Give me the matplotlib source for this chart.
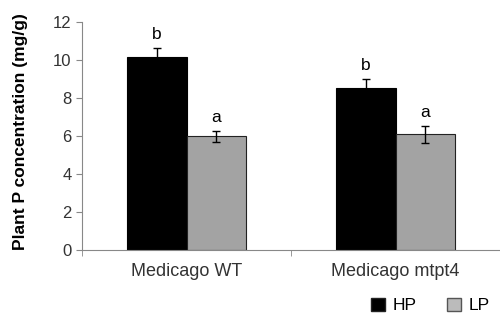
import numpy as np
import matplotlib.pyplot as plt
from matplotlib.patches import Patch

plt.rcParams['font.family'] = ['Liberation Sans', 'DejaVu Sans']

groups = ['Medicago WT', 'Medicago mtpt4']
hp = [10.15, 8.55]
lp = [5.98, 6.1]
hp_err = [0.5, 0.47]
lp_err = [0.3, 0.45]
hp_sig = ['b', 'b']
lp_sig = ['a', 'a']

fig = plt.figure(figsize=(5, 3.24), dpi=100)
ax = fig.add_axes([0.164, 0.228, 0.836, 0.704])

x = np.arange(len(groups))
w = 0.285
ax.bar(x - w/2, hp, w, color='black', edgecolor='black', linewidth=0.8)
ax.bar(x + w/2, lp, w, color='#a3a3a3', edgecolor='#222222', linewidth=0.8)
ax.errorbar(x - w/2, hp, yerr=hp_err, fmt='none', ecolor='black', elinewidth=1, capsize=3)
ax.errorbar(x + w/2, lp, yerr=lp_err, fmt='none', ecolor='black', elinewidth=1, capsize=3)

for i in range(len(groups)):
    ax.text(x[i] - w/2, hp[i] + hp_err[i] + 0.3, hp_sig[i], ha='center', va='bottom', fontsize=12.5)
    ax.text(x[i] + w/2, lp[i] + lp_err[i] + 0.3, lp_sig[i], ha='center', va='bottom', fontsize=12.5)

ax.set_xlim(-0.5, 1.5)
ax.set_ylim(0, 12)
ax.set_yticks(range(0, 13, 2))
ax.set_xticks(x)
ax.set_xticklabels(groups, fontsize=13)
ax.set_xticks([-0.5, 0.5, 1.5], minor=True)
ax.tick_params(axis='x', which='major', length=0, pad=9, colors='#333333')
ax.tick_params(axis='x', which='minor', length=4, color='#888888')
ax.tick_params(axis='y', length=4, color='#888888', labelsize=12, labelcolor='#333333')
ax.set_ylabel('Plant P concentration (mg/g)', fontsize=12.5, fontweight='bold')
ax.yaxis.set_label_coords(-0.13, 0.52)

for s in ['top', 'right']:
    ax.spines[s].set_visible(False)
for s in ['left', 'bottom']:
    ax.spines[s].set_color('#888888')

handles = [Patch(facecolor='black', edgecolor='#222222', label='HP'),
           Patch(facecolor='#bbbbbb', edgecolor='#555555', label='LP')]
fig.legend(handles=handles, loc='lower right', bbox_to_anchor=(1.01, -0.015), ncol=2,
           frameon=False, fontsize=12.5, handlelength=0.8, handleheight=0.8,
           handletextpad=0.4, columnspacing=1.8)

fig.savefig('out.png', dpi=100)
